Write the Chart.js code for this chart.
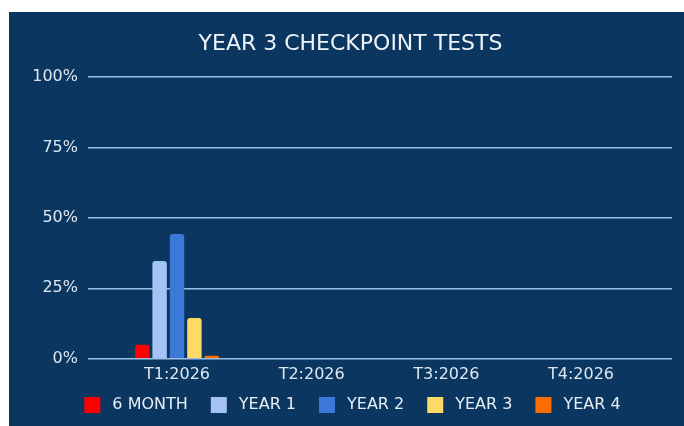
<!DOCTYPE html>
<html><head><meta charset="utf-8">
<script src="https://cdn.jsdelivr.net/npm/chart.js@4"></script>
<style>
html,body{margin:0;padding:0;background:#fff;}
#wrap{position:absolute;left:9px;top:12px;width:675px;height:414px;background:#0a365f;}
</style></head><body>
<div id="wrap"><canvas id="c"></canvas></div>
<script>
const categories = ['T1:2026', 'T2:2026', 'T3:2026', 'T4:2026'];
const seriesNames = ['6 MONTH', 'YEAR 1', 'YEAR 2', 'YEAR 3', 'YEAR 4'];
const sixMonth = [5, null, null, null];
const year1 = [34.7, null, null, null];
const year2 = [44.3, null, null, null];
const year3 = [14.5, null, null, null];
const year4 = [1.1, null, null, null];
const yTickValues = [0, 25, 50, 75, 100];
const titleText = 'YEAR 3 CHECKPOINT TESTS';

const BG = '#0a365f';
const colors = ['#ff0000', '#a4c2f4', '#3c78d8', '#ffd966', '#ff6d01'];
const allSeries = [sixMonth, year1, year2, year3, year4];

Chart.defaults.font.family = "'DejaVu Sans', Verdana, sans-serif";

const datasets = allSeries.map((vals, s) => ({
  label: seriesNames[s],
  data: vals.map((v, i) => ({ x: i, y: v })),
  backgroundColor: colors[s],
  borderColor: colors[s],
  borderWidth: 0,
  borderRadius: 3,
  categoryPercentage: 0.646,
  barPercentage: 0.83
}));

const legendShift = {
  id: 'legendShift',
  afterLayout(chart) {
    const l = chart.legend;
    if (l) {
      const t = Math.round(l.top - 10);
      const d = l.top - t;
      l.top -= d; l.bottom -= d;
    }
  }
};

new Chart(document.getElementById('c'), {
  type: 'bar',
  data: { datasets },
  plugins: [legendShift],
  options: {
    responsive: true,
    maintainAspectRatio: false,
    animation: false,
    layout: { padding: { left: 20, right: 12, top: 0, bottom: 0 } },
    plugins: {
      title: {
        display: true,
        text: titleText,
        color: '#eef3f8',
        font: { size: 22, weight: 'normal' },
        padding: { top: 19, bottom: 19.5 }
      },
      legend: {
        position: 'bottom',
        maxHeight: 42,
        labels: {
          color: '#e8eef5',
          font: { size: 16 },
          boxWidth: 24,
          boxHeight: 24,
          padding: 19,
          generateLabels(chart) {
            const items = Chart.defaults.plugins.legend.labels.generateLabels(chart);
            items.forEach(it => { it.strokeStyle = BG; it.lineWidth = 8; });
            return items;
          }
        }
      },
      tooltip: { enabled: false }
    },
    scales: {
      x: {
        type: 'linear',
        offset: false,
        min: -0.661,
        max: 3.676,
        grid: { display: false, drawTicks: false },
        border: { display: false },
        afterBuildTicks(scale) { scale.ticks = categories.map((c, i) => ({ value: i })); },
        afterFit(scale) { scale.height = 25.2; },
        ticks: {
          color: '#dfe7f0',
          font: { size: 16 },
          padding: 6,
          maxRotation: 0,
          autoSkip: false,
          callback: (v) => categories[v]
        }
      },
      y: {
        min: 0,
        max: 100,
        grid: { color: '#9dbfe3', lineWidth: 1.5, drawTicks: false },
        border: { display: false },
        afterBuildTicks(scale) { scale.ticks = yTickValues.map(v => ({ value: v })); },
        afterFit(scale) { scale.width = 59; },
        ticks: {
          color: '#dfe7f0',
          font: { size: 16 },
          padding: 10,
          callback: (v) => v + '%'
        }
      }
    }
  }
});
</script>
</body></html>
